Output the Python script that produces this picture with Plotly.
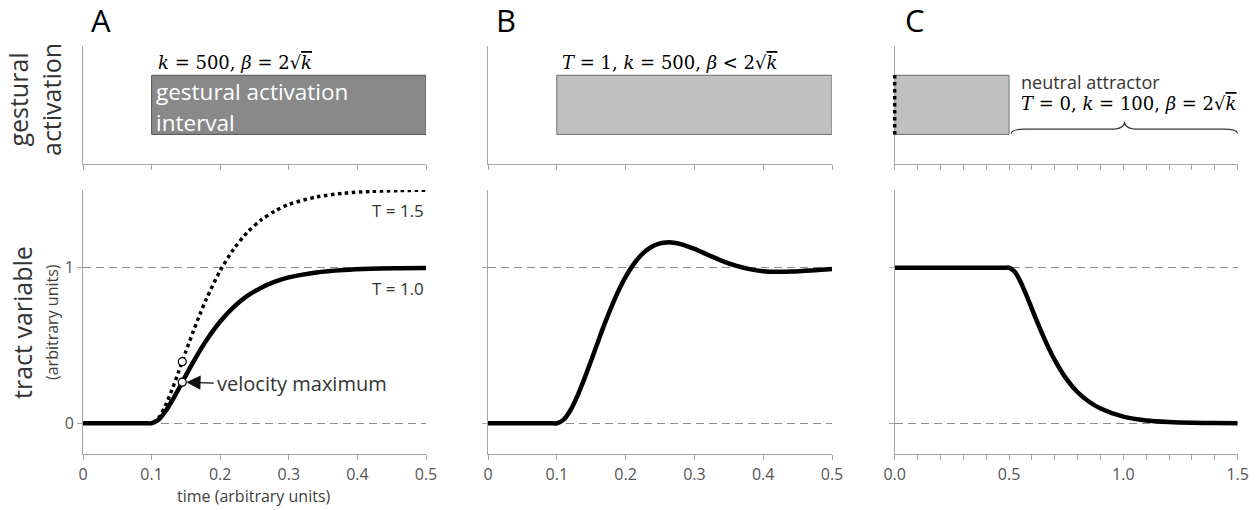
import plotly.graph_objects as go

# ---------------- data ----------------
# Panel A: critically damped movement, T = 1.0 and T = 1.5
time_a = [0, 0.09, 0.10, 0.11, 0.12, 0.13, 0.14, 0.15, 0.16, 0.17, 0.18, 0.20, 0.22,
          0.24, 0.26, 0.28, 0.30, 0.34, 0.38, 0.42, 0.46, 0.50]
tv_a_t10 = [0, 0, 0, 0.022, 0.075, 0.146, 0.225, 0.308, 0.388, 0.464, 0.534, 0.654,
            0.748, 0.820, 0.872, 0.910, 0.938, 0.970, 0.986, 0.994, 0.997, 0.999]
tv_a_t15 = [0, 0, 0, 0.033, 0.112, 0.219, 0.338, 0.462, 0.582, 0.696, 0.801, 0.981,
            1.122, 1.230, 1.308, 1.365, 1.407, 1.455, 1.479, 1.491, 1.496, 1.499]
velmax_time = [0.1447, 0.1447]
velmax_value = [0.264, 0.396]

# Panel B: under-damped movement
time_b = [0, 0.09, 0.10, 0.11, 0.12, 0.13, 0.14, 0.15, 0.16, 0.17, 0.18, 0.19, 0.20,
          0.21, 0.22, 0.23, 0.24, 0.25, 0.26, 0.27, 0.28, 0.30, 0.32, 0.34, 0.36,
          0.38, 0.40, 0.42, 0.44, 0.46, 0.48, 0.50]
tv_b = [0, 0, 0, 0.023, 0.085, 0.176, 0.285, 0.404, 0.526, 0.645, 0.755, 0.855, 0.941,
        1.012, 1.069, 1.111, 1.140, 1.157, 1.163, 1.161, 1.152, 1.121, 1.082, 1.044,
        1.013, 0.991, 0.978, 0.974, 0.975, 0.980, 0.986, 0.992]

# Panel C: neutral attractor release
time_c = [0, 0.48, 0.50, 0.525, 0.55, 0.575, 0.60, 0.625, 0.65, 0.675, 0.70, 0.75, 0.80,
          0.85, 0.90, 1.00, 1.10, 1.20, 1.30, 1.40, 1.50]
tv_c = [1, 1, 1, 0.974, 0.910, 0.827, 0.736, 0.645, 0.558, 0.478, 0.406, 0.287, 0.199,
        0.138, 0.095, 0.042, 0.018, 0.008, 0.003, 0.001, 0.0]

# gestural activation intervals (start, end) per panel, and activation band
activation_a = [0.1, 0.5]
activation_b = [0.1, 0.5]
activation_c = [0.0, 0.5]
activation_band = [0.25, 0.75]
neutral_interval = [0.5, 1.5]
targets = [0, 1]

x_ticks_ab = [0, 0.1, 0.2, 0.3, 0.4, 0.5]
x_ticklabels_ab = ["0", "0.1", "0.2", "0.3", "0.4", "0.5"]
x_ticks_c = [0.0, 0.5, 1.0, 1.5]
x_ticklabels_c = ["0.0", "0.5", "1.0", "1.5"]

# ---------------- layout helpers ----------------
W, H = 1260, 510
def px(x):
    return x / W
def py(y):
    return 1 - y / H

FONT = "Open Sans"
SERIF = "DejaVu Serif"
AXC = "#a6a6a6"
TXT = "#404040"

fig = go.Figure()

xdom = [[px(83), px(426)], [px(488), px(832)], [px(894.7), px(1237.7)]]
ydom_top = [py(164), py(45.7)]
ydom_bot = [py(454.3), py(190)]
xranges = [[0, 0.5], [0, 0.5], [0, 1.5]]

layout = dict(
    width=W, height=H, margin=dict(l=0, r=0, t=0, b=0, autoexpand=False),
    paper_bgcolor="white", plot_bgcolor="white", showlegend=False,
    font=dict(family=FONT, color=TXT, size=15),
)

for i in range(3):
    nt = i + 1
    nb = i + 4
    sx_t = "" if nt == 1 else str(nt)
    sx_b = str(nb)
    common_x = dict(range=xranges[i], domain=xdom[i], showline=True, linecolor=AXC,
                    linewidth=1, ticks="outside", ticklen=5, tickcolor=AXC,
                    showgrid=False, zeroline=False, fixedrange=True, automargin=False)
    layout["xaxis" + sx_t] = dict(common_x, anchor="y" + sx_t, dtick=0.1, tick0=0,
                                  showticklabels=False)
    layout["yaxis" + sx_t] = dict(range=[0, 1], domain=ydom_top, anchor="x" + sx_t,
                                  showline=True, linecolor=AXC, linewidth=1,
                                  ticks="", showticklabels=False, showgrid=False,
                                  zeroline=False, fixedrange=True, automargin=False)
    if i < 2:
        xb = dict(common_x, tickvals=x_ticks_ab, ticktext=x_ticklabels_ab)
    else:
        xb = dict(common_x, tickvals=x_ticks_c, ticktext=x_ticklabels_c,
                  minor=dict(dtick=0.1, tick0=0, ticks="outside", ticklen=5,
                             tickcolor=AXC, showgrid=False))
    xb.update(anchor="y" + sx_b, tickfont=dict(size=16, color="#555555"))
    layout["xaxis" + sx_b] = xb
    layout["yaxis" + sx_b] = dict(range=[-0.2, 1.5], domain=ydom_bot, anchor="x" + sx_b,
                                  showline=True, linecolor=AXC, linewidth=1,
                                  tickvals=targets, ticks="outside", ticklen=5,
                                  tickcolor=AXC, showticklabels=(i == 0),
                                  tickfont=dict(size=16, color="#555555"),
                                  showgrid=True, gridcolor="#8c8c8c", gridwidth=1,
                                  griddash="8px,5px", zeroline=False, fixedrange=True,
                                  automargin=False)

fig.update_layout(**layout)

# ---------------- activation rectangles ----------------
shapes = []
for (ax, act, fill, border) in [("", activation_a, "#898989", "#555555"),
                                ("2", activation_b, "#c0c0c0", "#6e6e6e"),
                                ("3", activation_c, "#c0c0c0", "#6e6e6e")]:
    shapes.append(dict(type="rect", xref="x" + ax, yref="y" + ax,
                       x0=act[0], x1=act[1], y0=activation_band[0], y1=activation_band[1],
                       fillcolor=fill, line=dict(color=border, width=1), layer="below"))

# dotted left edge of the panel C activation box (paper coords so it is not clipped)
c_frac = (activation_c[0] - xranges[2][0]) / (xranges[2][1] - xranges[2][0])
c_xpaper = xdom[2][0] + c_frac * (xdom[2][1] - xdom[2][0])
band_paper = [ydom_top[0] + v * (ydom_top[1] - ydom_top[0]) for v in activation_band]
shapes.append(dict(type="line", xref="paper", yref="paper", x0=c_xpaper, x1=c_xpaper,
                   y0=band_paper[0], y1=band_paper[1], layer="above",
                   line=dict(color="black", width=3.5, dash="dot")))

# curly brace over neutral attractor interval (panel C, top)
b0, b1 = neutral_interval[0] + 0.01, neutral_interval[1]
bm = (b0 + b1) / 2
yb, yh, yt = 0.255, 0.295, 0.36
r = 0.06
brace = (f"M {b0},{yb} Q {b0},{yh} {b0 + r},{yh} L {bm - r},{yh} "
         f"Q {bm},{yh} {bm},{yt} Q {bm},{yh} {bm + r},{yh} L {b1 - r},{yh} "
         f"Q {b1},{yh} {b1},{yb}")
shapes.append(dict(type="path", path=brace, xref="x3", yref="y3",
                   line=dict(color="#333333", width=1.2)))
fig.update_layout(shapes=shapes)

# ---------------- traces ----------------
fig.add_trace(go.Scatter(x=time_a, y=tv_a_t15, mode="lines", xaxis="x4", yaxis="y4",
                         line=dict(color="black", width=3.5, dash="dot",
                                   shape="spline", smoothing=0.8)))
fig.add_trace(go.Scatter(x=time_a, y=tv_a_t10, mode="lines", xaxis="x4", yaxis="y4",
                         line=dict(color="black", width=4.5, shape="spline",
                                   smoothing=0.8)))
fig.add_trace(go.Scatter(x=velmax_time, y=velmax_value, mode="markers", xaxis="x4",
                         yaxis="y4",
                         marker=dict(symbol="circle", size=8, color="white",
                                     line=dict(color="black", width=1.2))))
fig.add_trace(go.Scatter(x=time_b, y=tv_b, mode="lines", xaxis="x5", yaxis="y5",
                         line=dict(color="black", width=4.5, shape="spline",
                                   smoothing=0.8)))
fig.add_trace(go.Scatter(x=time_c, y=tv_c, mode="lines", xaxis="x6", yaxis="y6",
                         line=dict(color="black", width=4.5, shape="spline",
                                   smoothing=0.8)))

# ---------------- annotations ----------------
ann = []
def text(x, y, s, size, color=TXT, xanchor="left", family=FONT, angle=0):
    ann.append(dict(x=px(x), y=py(y), xref="paper", yref="paper", text=s,
                    showarrow=False, xanchor=xanchor, yanchor="middle", textangle=angle,
                    font=dict(size=size, color=color, family=family)))

OVK = "<span style='text-decoration:overline'><i>k</i></span>"

text(89, 20, "A", 31, color="black")
text(494, 20, "B", 31, color="black")
text(903, 20, "C", 31, color="black")

text(35, 100, "gestural<br>activation", 25, color="#333333", xanchor="center", angle=-90)
text(22, 323, "tract variable", 25, color="#333333", xanchor="center", angle=-90)
text(52, 322, "(arbitrary units)", 16, color="#404040", xanchor="center", angle=-90)

text(156, 62, f"<i>k</i> = 500, <i>β</i> = 2√{OVK}", 18, color="black", family=SERIF)
text(560, 62, f"<i>T</i> = 1, <i>k</i> = 500, <i>β</i> &lt; 2√{OVK}", 18, color="black",
     family=SERIF)
text(1019, 82, "neutral attractor", 18, color="#333333")
text(1019, 104, f"<i>T</i> = 0, <i>k</i> = 100, <i>β</i> = 2√{OVK}", 18, color="black",
     family=SERIF)

text(154, 91, "gestural activation", 22.5, color="white")
text(154, 122, "interval", 22.5, color="white")

text(426, 210, "T = 1.5", 17, color="#333333", xanchor="right")
text(426, 288, "T = 1.0", 17, color="#333333", xanchor="right")
text(215, 383, "velocity maximum", 20, color="#333333")
text(254, 496, "time (arbitrary units)", 16, color="#404040", xanchor="center")

fig.update_layout(annotations=ann)

fig.add_annotation(x=velmax_time[0], y=velmax_value[0], xref="x4", yref="y4",
                   ax=33, ay=1, axref="pixel", ayref="pixel", text="", showarrow=True,
                   arrowhead=2, arrowsize=2.2, arrowwidth=1.3, arrowcolor="#111111",
                   standoff=4)

fig.write_html("out.html", config={"displayModeBar": False},
               post_script="document.body.style.margin='0';")
